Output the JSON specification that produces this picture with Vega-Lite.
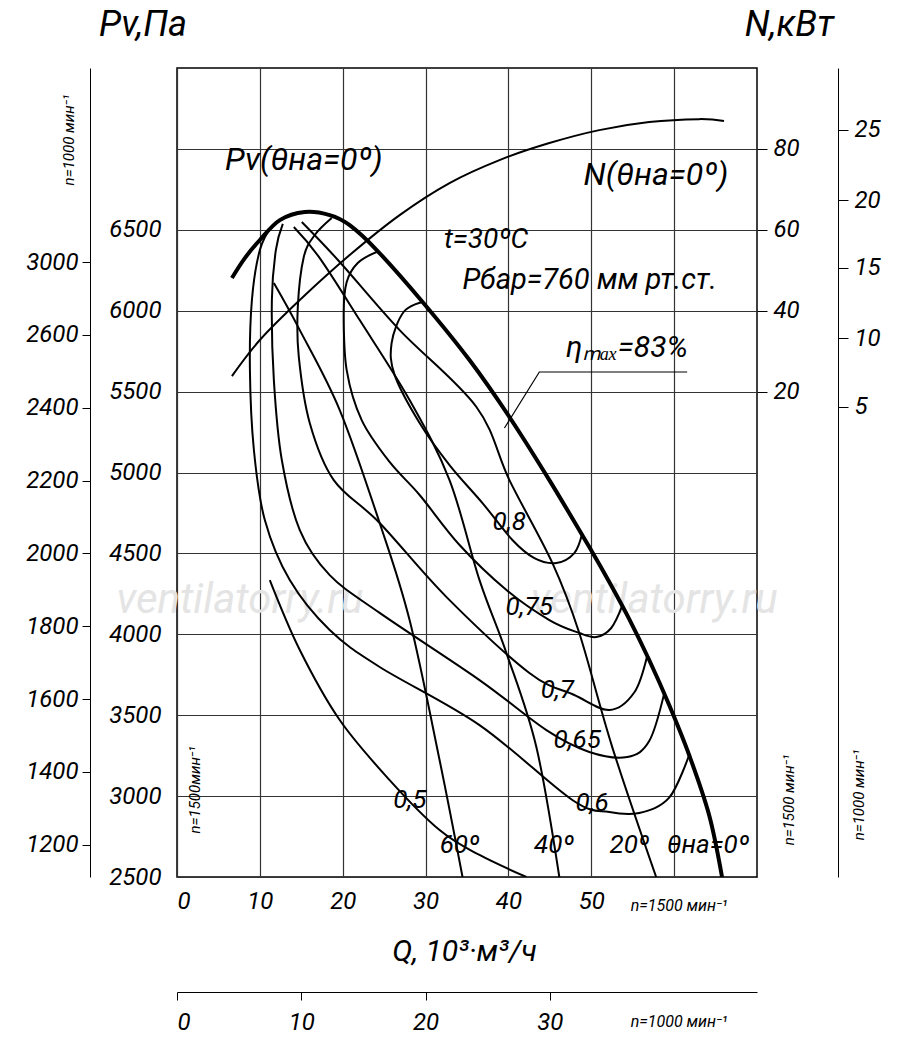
{
  "$schema": "https://vega.github.io/schema/vega-lite/v6.json",
  "width": 580,
  "height": 809,
  "autosize": "none",
  "padding": {"left": 177, "top": 68, "right": 143, "bottom": 162},
  "background": "white",
  "config": {
    "view": {"stroke": "black", "strokeWidth": 1.5},
    "axis": {"labelFont": "Roboto", "labelFontStyle": "italic", "labelFontSize": 24, "labelColor": "black", "tickColor": "black", "domainColor": "black", "title": null, "gridColor": "#333", "gridWidth": 1.2}
  },
  "datasets": {
    "curves": [
      {"s": "t0", "i": 1, "q": 6.63, "p": 6202, "w": 4}, {"s": "t0", "i": 2, "q": 8.19, "p": 6325, "w": 4}, {"s": "t0", "i": 3, "q": 10.0, "p": 6437, "w": 4}, {"s": "t0", "i": 4, "q": 12.41, "p": 6560, "w": 4}, {"s": "t0", "i": 5, "q": 15.42, "p": 6610, "w": 4}, {"s": "t0", "i": 6, "q": 18.43, "p": 6591, "w": 4}, {"s": "t0", "i": 7, "q": 20.84, "p": 6529, "w": 4}, {"s": "t0", "i": 8, "q": 24.1, "p": 6375, "w": 4}, {"s": "t0", "i": 9, "q": 29.64, "p": 6054, "w": 4}, {"s": "t0", "i": 10, "q": 35.3, "p": 5695, "w": 4}, {"s": "t0", "i": 11, "q": 40.12, "p": 5343, "w": 4}, {"s": "t0", "i": 12, "q": 44.94, "p": 4953, "w": 4}, {"s": "t0", "i": 13, "q": 49.76, "p": 4539, "w": 4}, {"s": "t0", "i": 14, "q": 52.17, "p": 4323, "w": 4}, {"s": "t0", "i": 15, "q": 54.58, "p": 4094, "w": 4}, {"s": "t0", "i": 16, "q": 56.99, "p": 3841, "w": 4}, {"s": "t0", "i": 17, "q": 59.4, "p": 3563, "w": 4}, {"s": "t0", "i": 18, "q": 61.81, "p": 3254, "w": 4}, {"s": "t0", "i": 19, "q": 64.22, "p": 2883, "w": 4}, {"s": "t0", "i": 20, "q": 65.78, "p": 2500, "w": 4},
      {"s": "e80", "i": 1, "q": 29.64, "p": 6054, "w": 2}, {"s": "e80", "i": 2, "q": 27.35, "p": 5992, "w": 2}, {"s": "e80", "i": 3, "q": 25.9, "p": 5800, "w": 2}, {"s": "e80", "i": 4, "q": 26.27, "p": 5602, "w": 2}, {"s": "e80", "i": 5, "q": 29.28, "p": 5306, "w": 2}, {"s": "e80", "i": 6, "q": 32.89, "p": 5046, "w": 2}, {"s": "e80", "i": 7, "q": 36.87, "p": 4811, "w": 2}, {"s": "e80", "i": 8, "q": 40.48, "p": 4583, "w": 2}, {"s": "e80", "i": 9, "q": 43.13, "p": 4471, "w": 2}, {"s": "e80", "i": 10, "q": 45.78, "p": 4441, "w": 2}, {"s": "e80", "i": 11, "q": 47.95, "p": 4502, "w": 2}, {"s": "e80", "i": 12, "q": 48.92, "p": 4626, "w": 2},
      {"s": "e75", "i": 1, "q": 24.1, "p": 6363, "w": 2}, {"s": "e75", "i": 2, "q": 21.81, "p": 6295, "w": 2}, {"s": "e75", "i": 3, "q": 20.48, "p": 6177, "w": 2}, {"s": "e75", "i": 4, "q": 20.12, "p": 5986, "w": 2}, {"s": "e75", "i": 5, "q": 20.48, "p": 5633, "w": 2}, {"s": "e75", "i": 6, "q": 22.29, "p": 5324, "w": 2}, {"s": "e75", "i": 7, "q": 25.66, "p": 5065, "w": 2}, {"s": "e75", "i": 8, "q": 29.28, "p": 4861, "w": 2}, {"s": "e75", "i": 9, "q": 34.1, "p": 4552, "w": 2}, {"s": "e75", "i": 10, "q": 39.76, "p": 4274, "w": 2}, {"s": "e75", "i": 11, "q": 44.94, "p": 4088, "w": 2}, {"s": "e75", "i": 12, "q": 48.55, "p": 4008, "w": 2}, {"s": "e75", "i": 13, "q": 50.6, "p": 3983, "w": 2}, {"s": "e75", "i": 14, "q": 52.41, "p": 4039, "w": 2}, {"s": "e75", "i": 15, "q": 53.73, "p": 4175, "w": 2},
      {"s": "e70", "i": 1, "q": 18.67, "p": 6573, "w": 2}, {"s": "e70", "i": 2, "q": 16.63, "p": 6468, "w": 2}, {"s": "e70", "i": 3, "q": 15.3, "p": 6332, "w": 2}, {"s": "e70", "i": 4, "q": 14.58, "p": 6023, "w": 2}, {"s": "e70", "i": 5, "q": 14.7, "p": 5714, "w": 2}, {"s": "e70", "i": 6, "q": 16.02, "p": 5306, "w": 2}, {"s": "e70", "i": 7, "q": 18.92, "p": 4953, "w": 2}, {"s": "e70", "i": 8, "q": 24.46, "p": 4688, "w": 2}, {"s": "e70", "i": 9, "q": 32.53, "p": 4230, "w": 2}, {"s": "e70", "i": 10, "q": 42.53, "p": 3761, "w": 2}, {"s": "e70", "i": 11, "q": 47.95, "p": 3625, "w": 2}, {"s": "e70", "i": 12, "q": 52.17, "p": 3532, "w": 2}, {"s": "e70", "i": 13, "q": 55.18, "p": 3640, "w": 2}, {"s": "e70", "i": 14, "q": 56.75, "p": 3868, "w": 2},
      {"s": "e65", "i": 1, "q": 12.77, "p": 6536, "w": 2}, {"s": "e65", "i": 2, "q": 11.93, "p": 6375, "w": 2}, {"s": "e65", "i": 3, "q": 11.45, "p": 6066, "w": 2}, {"s": "e65", "i": 4, "q": 11.69, "p": 5571, "w": 2}, {"s": "e65", "i": 5, "q": 12.65, "p": 5077, "w": 2}, {"s": "e65", "i": 6, "q": 14.82, "p": 4644, "w": 2}, {"s": "e65", "i": 7, "q": 18.43, "p": 4366, "w": 2}, {"s": "e65", "i": 8, "q": 24.46, "p": 4132, "w": 2}, {"s": "e65", "i": 9, "q": 36.51, "p": 3717, "w": 2}, {"s": "e65", "i": 10, "q": 44.58, "p": 3408, "w": 2}, {"s": "e65", "i": 11, "q": 49.76, "p": 3273, "w": 2}, {"s": "e65", "i": 12, "q": 54.34, "p": 3242, "w": 2}, {"s": "e65", "i": 13, "q": 56.99, "p": 3340, "w": 2}, {"s": "e65", "i": 14, "q": 58.8, "p": 3635, "w": 2},
      {"s": "e60", "i": 1, "q": 11.45, "p": 6523, "w": 2}, {"s": "e60", "i": 2, "q": 10.0, "p": 6375, "w": 2}, {"s": "e60", "i": 3, "q": 9.04, "p": 6066, "w": 2}, {"s": "e60", "i": 4, "q": 8.8, "p": 5633, "w": 2}, {"s": "e60", "i": 5, "q": 9.28, "p": 5139, "w": 2}, {"s": "e60", "i": 6, "q": 10.6, "p": 4706, "w": 2}, {"s": "e60", "i": 7, "q": 13.61, "p": 4335, "w": 2}, {"s": "e60", "i": 8, "q": 18.43, "p": 4026, "w": 2}, {"s": "e60", "i": 9, "q": 24.46, "p": 3798, "w": 2}, {"s": "e60", "i": 10, "q": 36.51, "p": 3439, "w": 2}, {"s": "e60", "i": 11, "q": 47.71, "p": 2976, "w": 2}, {"s": "e60", "i": 12, "q": 52.17, "p": 2902, "w": 2}, {"s": "e60", "i": 13, "q": 55.78, "p": 2896, "w": 2}, {"s": "e60", "i": 14, "q": 59.4, "p": 2990, "w": 2}, {"s": "e60", "i": 15, "q": 61.81, "p": 3254, "w": 2},
      {"s": "e50", "i": 1, "q": 11.2, "p": 4335, "w": 2}, {"s": "e50", "i": 2, "q": 14.82, "p": 3903, "w": 2}, {"s": "e50", "i": 3, "q": 19.64, "p": 3470, "w": 2}, {"s": "e50", "i": 4, "q": 25.66, "p": 3099, "w": 2}, {"s": "e50", "i": 5, "q": 31.69, "p": 2790, "w": 2}, {"s": "e50", "i": 6, "q": 36.51, "p": 2636, "w": 2}, {"s": "e50", "i": 7, "q": 42.17, "p": 2500, "w": 2},
      {"s": "a60", "i": 1, "q": 11.69, "p": 6171, "w": 2}, {"s": "a60", "i": 2, "q": 14.82, "p": 5880, "w": 2}, {"s": "a60", "i": 3, "q": 19.64, "p": 5386, "w": 2}, {"s": "a60", "i": 4, "q": 24.46, "p": 4688, "w": 2}, {"s": "a60", "i": 5, "q": 28.07, "p": 4088, "w": 2}, {"s": "a60", "i": 6, "q": 31.69, "p": 3223, "w": 2}, {"s": "a60", "i": 7, "q": 34.46, "p": 2500, "w": 2},
      {"s": "a40", "i": 1, "q": 14.1, "p": 6517, "w": 2}, {"s": "a40", "i": 2, "q": 17.23, "p": 6325, "w": 2}, {"s": "a40", "i": 3, "q": 22.05, "p": 5942, "w": 2}, {"s": "a40", "i": 4, "q": 28.07, "p": 5448, "w": 2}, {"s": "a40", "i": 5, "q": 32.89, "p": 4953, "w": 2}, {"s": "a40", "i": 6, "q": 36.51, "p": 4335, "w": 2}, {"s": "a40", "i": 7, "q": 39.76, "p": 3884, "w": 2}, {"s": "a40", "i": 8, "q": 43.37, "p": 3303, "w": 2}, {"s": "a40", "i": 9, "q": 46.14, "p": 2500, "w": 2},
      {"s": "a20", "i": 1, "q": 15.06, "p": 6548, "w": 2}, {"s": "a20", "i": 2, "q": 19.64, "p": 6301, "w": 2}, {"s": "a20", "i": 3, "q": 26.87, "p": 5880, "w": 2}, {"s": "a20", "i": 4, "q": 36.14, "p": 5405, "w": 2}, {"s": "a20", "i": 5, "q": 40.12, "p": 4953, "w": 2}, {"s": "a20", "i": 6, "q": 45.3, "p": 4441, "w": 2}, {"s": "a20", "i": 7, "q": 48.55, "p": 4008, "w": 2}, {"s": "a20", "i": 8, "q": 52.53, "p": 3303, "w": 2}, {"s": "a20", "i": 9, "q": 57.83, "p": 2500, "w": 2},
      {"s": "N", "i": 1, "q": 6.63, "p": 5596, "w": 2}, {"s": "N", "i": 2, "q": 10.0, "p": 5819, "w": 2}, {"s": "N", "i": 3, "q": 14.82, "p": 6066, "w": 2}, {"s": "N", "i": 4, "q": 20.84, "p": 6344, "w": 2}, {"s": "N", "i": 5, "q": 26.87, "p": 6591, "w": 2}, {"s": "N", "i": 6, "q": 32.89, "p": 6789, "w": 2}, {"s": "N", "i": 7, "q": 38.92, "p": 6931, "w": 2}, {"s": "N", "i": 8, "q": 44.94, "p": 7036, "w": 2}, {"s": "N", "i": 9, "q": 50.96, "p": 7116, "w": 2}, {"s": "N", "i": 10, "q": 56.99, "p": 7166, "w": 2}, {"s": "N", "i": 11, "q": 63.01, "p": 7184, "w": 2}, {"s": "N", "i": 12, "q": 66.02, "p": 7172, "w": 2}
    ],
    "leader": [
      {"i": 1, "q": 39.52, "p": 5275}, {"i": 2, "q": 43.73, "p": 5621}, {"i": 3, "q": 61.57, "p": 5621}
    ],
    "labels": [
      {"t": "Pv(θна=0º)", "q": 15.3, "p": 6931, "f": 32, "a": 0, "c": "black"},
      {"t": "N(θна=0º)", "q": 57.8, "p": 6838, "f": 32, "a": 0, "c": "black"},
      {"t": "t=30ºC", "q": 37.3, "p": 6437, "f": 28, "a": 0, "c": "black"},
      {"t": "Pбар=760 мм рт.ст.", "q": 49.8, "p": 6189, "f": 29, "a": 0, "c": "black"},
      {"t": "ηₘₐₓ=83%", "q": 54.3, "p": 5769, "f": 30, "a": 0, "c": "black"},
      {"t": "0,8", "q": 40.1, "p": 4694, "f": 26, "a": 0, "c": "black"},
      {"t": "0,75", "q": 42.5, "p": 4169, "f": 26, "a": 0, "c": "black"},
      {"t": "0,7", "q": 45.9, "p": 3656, "f": 26, "a": 0, "c": "black"},
      {"t": "0,65", "q": 48.3, "p": 3347, "f": 26, "a": 0, "c": "black"},
      {"t": "0,6", "q": 50.1, "p": 2957, "f": 26, "a": 0, "c": "black"},
      {"t": "0,5", "q": 28.1, "p": 2976, "f": 26, "a": 0, "c": "black"},
      {"t": "60º", "q": 34.1, "p": 2698, "f": 26, "a": 0, "c": "black"},
      {"t": "40º", "q": 45.5, "p": 2698, "f": 26, "a": 0, "c": "black"},
      {"t": "20º", "q": 54.6, "p": 2698, "f": 26, "a": 0, "c": "black"},
      {"t": "θна=0º", "q": 64.1, "p": 2698, "f": 26, "a": 0, "c": "black"},
      {"t": "n=1500 мин⁻¹", "q": 60.6, "p": 2321, "f": 16, "a": 0, "c": "black"},
      {"t": "Q, 10³·м³/ч", "q": 34.7, "p": 2036, "f": 30, "a": 0, "c": "black"},
      {"t": "n=1000 мин⁻¹", "q": 60.6, "p": 1604, "f": 16, "a": 0, "c": "black"},
      {"t": "Pv,Па", "q": -4.1, "p": 7765, "f": 36, "a": 0, "c": "black"},
      {"t": "N,кВт", "q": 73.9, "p": 7765, "f": 36, "a": 0, "c": "black"},
      {"t": "n=1000 мин⁻¹", "q": -13.0, "p": 7055, "f": 15, "a": 270, "c": "black"},
      {"t": "n=1500мин⁻¹", "q": 2.2, "p": 3038, "f": 15, "a": 270, "c": "black"},
      {"t": "n=1500 мин⁻¹", "q": 73.9, "p": 2976, "f": 15, "a": 270, "c": "black"},
      {"t": "n=1000 мин⁻¹", "q": 82.3, "p": 3007, "f": 15, "a": 270, "c": "black"},
      {"t": "ventilatorry.ru", "q": 7.6, "p": 4212, "f": 42, "a": 0, "c": "#e4e4e4"},
      {"t": "ventilatorry.ru", "q": 57.6, "p": 4212, "f": 42, "a": 0, "c": "#e4e4e4"}
    ],
    "dummy": [{"q": 0, "p": 2500}]
  },
  "resolve": {"axis": {"x": "independent", "y": "independent"}},
  "layer": [
    {
      "data": {"name": "labels"},
      "transform": [{"filter": "datum.c != 'black'"}],
      "mark": {"type": "text", "font": "Roboto", "fontStyle": "italic", "clip": false},
      "encoding": {
        "x": {"field": "q", "type": "quantitative", "scale": {"domain": [0, 70], "nice": false, "zero": false},
          "axis": {"values": [0, 10, 20, 30, 40, 50, 60], "grid": true, "ticks": false, "domain": false, "labelPadding": 12, "labelExpr": "datum.value <= 50 ? datum.label : ''"}},
        "y": {"field": "p", "type": "quantitative", "scale": {"domain": [2500, 7500], "nice": false, "zero": false},
          "axis": {"values": [2500, 3000, 3500, 4000, 4500, 5000, 5500, 6000, 6500, 7000], "format": "d", "grid": true, "ticks": false, "domain": false, "labelPadding": 16, "labelExpr": "datum.value < 7000 ? datum.label : ''"}},
        "text": {"field": "t"},
        "size": {"field": "f", "type": "quantitative", "scale": null},
        "color": {"field": "c", "type": "nominal", "scale": null}
      }
    },
    {
      "data": {"name": "curves"},
      "mark": {"type": "line", "interpolate": "cardinal", "color": "black", "clip": true},
      "encoding": {
        "x": {"field": "q", "type": "quantitative", "axis": null},
        "y": {"field": "p", "type": "quantitative", "axis": null},
        "detail": {"field": "s"},
        "order": {"field": "i", "type": "quantitative"},
        "strokeWidth": {"field": "w", "type": "quantitative", "scale": null}
      }
    },
    {
      "data": {"name": "leader"},
      "mark": {"type": "line", "color": "black", "strokeWidth": 1.2},
      "encoding": {
        "x": {"field": "q", "type": "quantitative", "axis": null},
        "y": {"field": "p", "type": "quantitative", "axis": null},
        "order": {"field": "i", "type": "quantitative"}
      }
    },
    {
      "data": {"name": "labels"},
      "transform": [{"filter": "datum.c == 'black'"}],
      "mark": {"type": "text", "font": "Roboto", "fontStyle": "italic", "clip": false},
      "encoding": {
        "x": {"field": "q", "type": "quantitative", "axis": null},
        "y": {"field": "p", "type": "quantitative", "axis": null},
        "text": {"field": "t"},
        "size": {"field": "f", "type": "quantitative", "scale": null},
        "angle": {"field": "a", "type": "quantitative", "scale": null},
        "color": {"field": "c", "type": "nominal", "scale": null}
      }
    },
    {
      "data": {"name": "dummy"},
      "mark": {"type": "point", "opacity": 0},
      "encoding": {
        "x": {"field": "q", "type": "quantitative",
          "axis": {"orient": "bottom", "offset": 115, "values": [0, 15, 30, 45], "labelExpr": "format(datum.value * 2 / 3, 'd')", "tickSize": 8, "domain": true, "grid": false, "labelPadding": 10}},
        "y": {"field": "p", "type": "quantitative",
          "axis": {"orient": "left", "offset": 87, "values": [2700, 3150, 3600, 4050, 4500, 4950, 5400, 5850, 6300], "labelExpr": "datum.value == 6300 ? '3000' : format(datum.value * 4 / 9, 'd')", "tickSize": 8, "domain": true, "grid": false, "labelPadding": 4}}
      }
    },
    {
      "data": {"name": "dummy"},
      "mark": {"type": "point", "opacity": 0},
      "encoding": {
        "x": {"field": "q", "type": "quantitative", "axis": null},
        "y": {"field": "p", "type": "quantitative",
          "axis": {"orient": "right", "offset": 0, "values": [5500, 6000, 6500, 7000], "labelExpr": "format((datum.value - 5000) / 25, 'd')", "tickSize": 10, "domain": false, "grid": false, "labelPadding": 6}}
      }
    },
    {
      "data": {"name": "dummy"},
      "mark": {"type": "point", "opacity": 0},
      "encoding": {
        "x": {"field": "q", "type": "quantitative", "axis": null},
        "y": {"field": "p", "type": "quantitative",
          "axis": {"orient": "right", "offset": 81, "values": [5405, 5831, 6264, 6684, 7117], "labelExpr": "format(round((datum.value - 5405) / 428 * 5 + 5), 'd')", "tickSize": 10, "domain": true, "grid": false, "labelPadding": 6}}
      }
    }
  ]
}
